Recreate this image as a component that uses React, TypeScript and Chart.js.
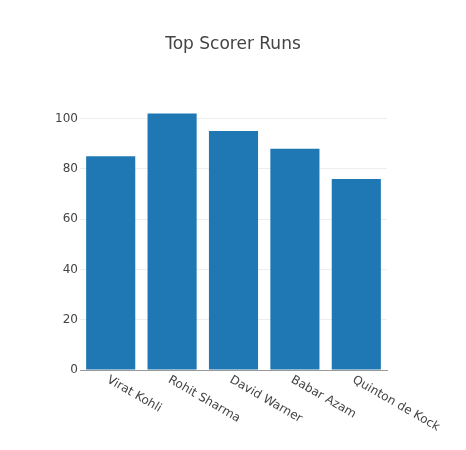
import React, { useEffect, useRef } from "react";
import { Chart, registerables } from "chart.js";

Chart.register(...registerables);

const players = ["Virat Kohli", "Rohit Sharma", "David Warner", "Babar Azam", "Quinton de Kock"];
const runs = [85, 102, 95, 88, 76];
const yTicks = [0, 20, 40, 60, 80, 100];
const titleText = "Top Scorer Runs";

const FONT = "'DejaVu Sans', verdana, arial, sans-serif";

export default function App() {
  const ref = useRef<HTMLCanvasElement>(null);
  useEffect(() => {
    if (!ref.current) return;
    const titlePlugin = {
      id: "plotlyTexts",
      afterDraw(chart: any) {
        const ctx = chart.ctx;
        ctx.save();
        ctx.fillStyle = "#444";
        ctx.font = `17px ${FONT}`;
        ctx.textAlign = "center";
        ctx.textBaseline = "middle";
        ctx.fillText(titleText, 233, 45);
        const xs = chart.scales.x;
        ctx.font = `12px ${FONT}`;
        ctx.textAlign = "left";
        ctx.textBaseline = "middle";
        players.forEach((p, i) => {
          const x = xs.getPixelForTick(i);
          ctx.save();
          ctx.translate(x - 3, chart.chartArea.bottom + 9);
          ctx.rotate(Math.PI / 6);
          ctx.fillText(p, 0, 0);
          ctx.restore();
        });
        ctx.restore();
      },
    };
    const chart = new Chart(ref.current, {
      type: "bar",
      data: {
        labels: players,
        datasets: [
          {
            data: runs,
            backgroundColor: "#1f77b4",
            borderWidth: 0,
            categoryPercentage: 1,
            barPercentage: 0.8,
          },
        ],
      },
      options: {
        animation: false,
        responsive: false,
        events: [],
        layout: { padding: { left: 0, right: 79, top: 100, bottom: 0 } },
        plugins: { legend: { display: false }, title: { display: false }, tooltip: { enabled: false } },
        scales: {
          x: {
            ticks: { display: false },
            grid: { display: false, drawTicks: false },
            border: { display: true, color: "#999", width: 1 },
            afterFit(scale: any) {
              scale.height = 80;
            },
          },
          y: {
            min: 0,
            max: 107.37,
            afterBuildTicks(scale: any) {
              scale.ticks = yTicks.map((v) => ({ value: v }));
            },
            ticks: {
              color: "#444",
              font: { family: FONT, size: 12 },
              padding: 2,
            },
            grid: { color: "#eee", drawTicks: false, lineWidth: 1 },
            border: { display: false },
            afterFit(scale: any) {
              scale.width = 80;
            },
          },
        },
      },
      plugins: [titlePlugin],
    });
    return () => chart.destroy();
  }, []);
  return (
    <div style={{ position: "fixed", left: 0, top: 0, width: 466, height: 450, background: "#fff" }}>
      <canvas ref={ref} width={466} height={450} style={{ width: 466, height: 450 }} />
    </div>
  );
}
